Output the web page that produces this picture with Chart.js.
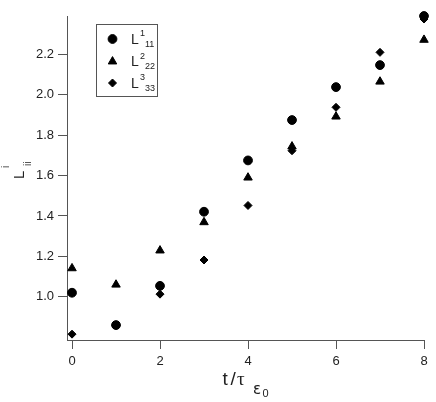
<!DOCTYPE html>
<html>
<head>
<meta charset="utf-8">
<script src="https://cdn.jsdelivr.net/npm/chart.js@4.4.0/dist/chart.umd.min.js"></script>
<style>
  html, body { margin: 0; padding: 0; background: #ffffff; }
  #wrap { width: 436px; height: 402px; }
</style>
</head>
<body>
<div id="wrap"><canvas id="c" width="436" height="402"></canvas></div>
<script>
// ---- data ----
const tValues = [0, 1, 2, 3, 4, 5, 6, 7, 8];
const L11 = [1.020, 0.860, 1.054, 1.421, 1.675, 1.875, 2.038, 2.147, 2.390];
const L22 = [1.141, 1.060, 1.229, 1.369, 1.590, 1.744, 1.892, 2.065, 2.272];
const L33 = [0.815, 0.858, 1.013, 1.182, 1.452, 1.723, 1.938, 2.210, 2.375];
const xTickValues = [0, 2, 4, 6, 8];
const yTickValues = [1.0, 1.2, 1.4, 1.6, 1.8, 2.0, 2.2];
const legendNames = [["L", "1", "11"], ["L", "2", "22"], ["L", "3", "33"]];

const AXIS = '#555555';
const INK = '#000000';
const styles = [
  { pointStyle: 'circle', radius: 4.4 },
  { pointStyle: 'triangle', radius: 4.9 },
  { pointStyle: 'rectRot', radius: 4.0 }
];
const series = [L11, L22, L33];

function pts(arr) { return tValues.map((t, i) => ({ x: t, y: arr[i] })); }

const datasets = series.map((s, k) => ({
  label: legendNames[k].join(''),
  data: pts(s),
  pointStyle: styles[k].pointStyle,
  pointRadius: styles[k].radius,
  pointHoverRadius: styles[k].radius,
  pointBackgroundColor: INK,
  pointBorderColor: INK,
  pointBorderWidth: 1,
  showLine: false,
  clip: false
}));

const annotate = {
  id: 'annotate',
  afterDraw(chart) {
    const ctx = chart.ctx;
    ctx.save();
    // legend box
    ctx.strokeStyle = AXIS;
    ctx.lineWidth = 1;
    ctx.strokeRect(96.5, 24.5, 61, 72);
    const rowsY = [39, 61.5, 83];
    rowsY.forEach((y, k) => {
      ctx.fillStyle = INK;
      ctx.strokeStyle = INK;
      Chart.helpers.drawPoint(ctx, {
        pointStyle: styles[k].pointStyle,
        radius: styles[k].radius,
        rotation: 0,
        borderWidth: 1
      }, 112.5, y);
      ctx.fillStyle = '#222';
      ctx.textAlign = 'left';
      ctx.textBaseline = 'alphabetic';
      ctx.font = '14px "Liberation Sans", Arial, sans-serif';
      ctx.fillText(legendNames[k][0], 131, y + 4.5);
      ctx.font = '9px "Liberation Sans", Arial, sans-serif';
      ctx.fillText(legendNames[k][1], 140, y - 3);
      ctx.fillText(legendNames[k][2], 145, y + 7.5);
    });

    // y-axis title (rotated)
    ctx.save();
    ctx.translate(23.5, 178);
    ctx.rotate(-Math.PI / 2);
    ctx.fillStyle = '#222';
    ctx.textAlign = 'left';
    ctx.textBaseline = 'alphabetic';
    ctx.font = '15px "Liberation Sans", Arial, sans-serif';
    ctx.fillText('L', -1, 0);
    ctx.font = '10px "Liberation Sans", Arial, sans-serif';
    ctx.fillText('i', 10, -15);
    ctx.fillText('ii', 12, 7);
    ctx.restore();

    // x-axis title
    ctx.fillStyle = '#222';
    ctx.textAlign = 'left';
    ctx.textBaseline = 'alphabetic';
    ctx.font = '19px "Liberation Sans", Arial, sans-serif';
    ctx.fillText('t', 222.5, 385);
    ctx.fillText('/', 230.5, 385);
    ctx.font = '19px "Liberation Serif", "Times New Roman", serif';
    ctx.fillText('\u03C4', 237, 385);
    ctx.font = '15px "DejaVu Sans", sans-serif';
    ctx.fillText('\u03B5', 253, 394);
    ctx.font = '11px "Liberation Sans", Arial, sans-serif';
    ctx.fillText('0', 262.5, 397);
    ctx.restore();
  }
};

const tickFont = { family: '"Liberation Sans", Arial, sans-serif', size: 13 };

new Chart(document.getElementById('c'), {
  type: 'scatter',
  data: { datasets },
  options: {
    responsive: false,
    animation: false,
    events: [],
    layout: { padding: { left: 0, top: 16, right: 12, bottom: 0 } },
    plugins: { legend: { display: false }, tooltip: { enabled: false }, title: { display: false } },
    scales: {
      x: {
        type: 'linear',
        min: -0.114,
        max: 8,
        afterBuildTicks(scale) { scale.ticks = xTickValues.map(v => ({ value: v })); },
        afterFit(scale) { scale.height = 62; },
        grid: { drawOnChartArea: false, drawTicks: true, tickLength: 9, color: AXIS, lineWidth: 1 },
        border: { display: true, color: AXIS, width: 1 },
        ticks: { font: tickFont, color: '#222', padding: 5, maxRotation: 0, autoSkip: false,
                 callback: v => String(v) }
      },
      y: {
        type: 'linear',
        min: 0.786,
        max: 2.390,
        afterBuildTicks(scale) { scale.ticks = yTickValues.map(v => ({ value: v })); },
        afterFit(scale) { scale.width = 67; },
        grid: { drawOnChartArea: false, drawTicks: true, tickLength: 9, color: AXIS, lineWidth: 1 },
        border: { display: true, color: AXIS, width: 1 },
        ticks: { font: tickFont, color: '#222', padding: 4, autoSkip: false,
                 callback: v => v.toFixed(1) }
      }
    }
  },
  plugins: [annotate]
});
</script>
</body>
</html>
